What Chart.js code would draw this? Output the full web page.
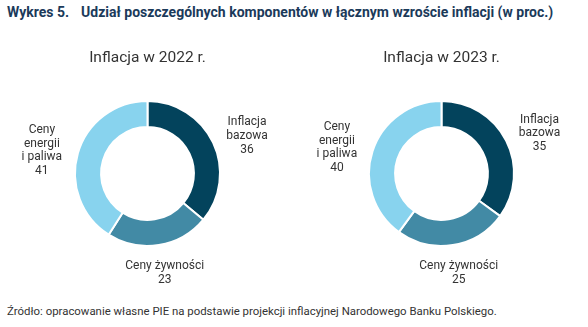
<!DOCTYPE html>
<html lang="pl">
<head>
<meta charset="utf-8">
<script src="https://cdn.jsdelivr.net/npm/chart.js@4"></script>
<style>
  html, body { margin: 0; padding: 0; background: #ffffff; }
  #wrap { position: relative; width: 588px; height: 327px; overflow: hidden; font-family: Roboto, "Noto Sans", sans-serif; }
  #tytul { position: absolute; left: 7px; top: 4px; font-size: 14px; font-weight: 700; color: #1b3a5a; white-space: nowrap; }
  #tytul span { margin-left: 12px; }
  #zrodlo { position: absolute; left: 7px; top: 304px; font-size: 11.4px; color: #333333; white-space: nowrap; }
  .box { position: absolute; top: 40px; width: 294px; height: 250px; }
  #box2022 { left: 0; }
  #box2023 { left: 294px; }
</style>
</head>
<body>
<div id="wrap">
  <div id="tytul">Wykres 5.<span>Udział poszczególnych komponentów w łącznym wzroście inflacji (w proc.)</span></div>
  <div class="box" id="box2022"><canvas id="wykres2022"></canvas></div>
  <div class="box" id="box2023"><canvas id="wykres2023"></canvas></div>
  <div id="zrodlo">Źródło: opracowanie własne PIE na podstawie projekcji inflacyjnej Narodowego Banku Polskiego.</div>
</div>
<script>
// dane
const kategorie = ['Inflacja bazowa', 'Ceny żywności', 'Ceny energii i paliwa'];
const etykietyLinie = [['Inflacja', 'bazowa'], ['Ceny żywności'], ['Ceny', 'energii', 'i paliwa']];
const wartosci2022 = [36, 23, 41];
const wartosci2023 = [35, 25, 40];
const kolory = ['#03435c', '#428aa5', '#88d3ee'];

// podpisy wokół pierścienia + tytuł wykresu
const podpisyPlugin = {
    id: 'podpisy',
    afterDatasetsDraw(chart, args, opts) {
        const ctx = chart.ctx;
        const meta = chart.getDatasetMeta(0);
        const dane = chart.data.datasets[0].data;
        ctx.save();
        ctx.fillStyle = '#333333';
        ctx.textAlign = 'center';
        ctx.textBaseline = 'middle';

        const cx = meta.data[0].x;
        const cy = meta.data[0].y;

        ctx.font = '15.5px Roboto, "Noto Sans", sans-serif';
        ctx.fillText(opts.tytul, cx, chart.chartArea.top - 42);

        ctx.font = '12px Roboto, "Noto Sans", sans-serif';
        meta.data.forEach((luk, i) => {
            const kat = (luk.startAngle + luk.endAngle) / 2;
            const px = cx + Math.cos(kat) * 110;
            // etykiety nad środkiem schodzą nieco niżej
            const py = cy + Math.sin(kat) * 97 + 4;
            const linie = etykietyLinie[i].concat([String(dane[i])]);
            const wys = 13.8;
            const start = py - (linie.length - 1) * wys / 2;
            linie.forEach((t, j) => ctx.fillText(t, px, start + j * wys));
        });
        ctx.restore();
    }
};

function rysujWykres(id, wartosci, tytul) {
    return new Chart(document.getElementById(id), {
        type: 'doughnut',
        data: {
            labels: kategorie,
            datasets: [{
                data: wartosci,
                backgroundColor: kolory,
                borderColor: '#ffffff',
                borderWidth: 2,
                hoverOffset: 0
            }]
        },
        options: {
            responsive: true,
            maintainAspectRatio: false,
            animation: false,
            cutout: '64%',
            layout: {
                padding: { left: 74, right: 73, top: 60, bottom: 43 }
            },
            plugins: {
                legend: { display: false },
                tooltip: { enabled: false },
                podpisy: { tytul: tytul }
            }
        },
        plugins: [podpisyPlugin]
    });
}

rysujWykres('wykres2022', wartosci2022, 'Inflacja w 2022 r.');
rysujWykres('wykres2023', wartosci2023, 'Inflacja w 2023 r.');
</script>
</body>
</html>
